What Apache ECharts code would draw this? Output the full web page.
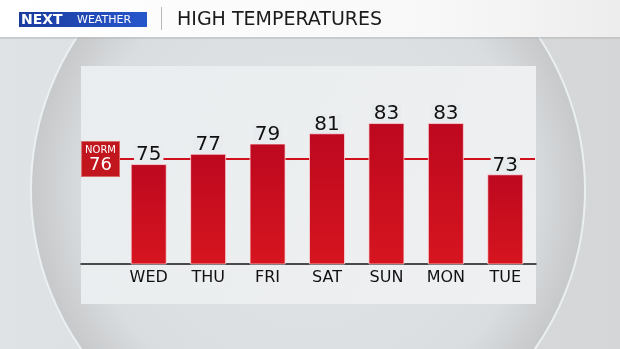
<!DOCTYPE html>
<html>
<head>
<meta charset="utf-8">
<script src="https://cdn.jsdelivr.net/npm/echarts@6/dist/echarts.min.js"></script>
<style>
html,body{margin:0;padding:0;width:620px;height:349px;overflow:hidden;background:#dadddf;}
#c{width:620px;height:349px;}
</style>
</head>
<body>
<div id="c"></div>
<script>
const days = ['WED', 'THU', 'FRI', 'SAT', 'SUN', 'MON', 'TUE'];
const highs = [75, 77, 79, 81, 83, 83, 73];
const normalHigh = 76;
const titleText = 'HIGH TEMPERATURES';
const brandNext = 'NEXT';
const brandWeather = 'WEATHER';

const FONT = '"DejaVu Sans", sans-serif';
const PANEL = '#e9ecee';

const chart = echarts.init(document.getElementById('c'), null, {renderer: 'canvas'});

const option = {
  animation: false,
  backgroundColor: 'transparent',
  title: {
    text: titleText,
    left: 177,
    top: 11,
    padding: 0,
    textStyle: {fontFamily: FONT, fontSize: 19, fontWeight: 'normal', color: '#1b1b1b'}
  },
  graphic: [
    // backdrop
    {type: 'rect', z: -10, silent: true, shape: {x: 0, y: 0, width: 620, height: 349},
      style: {fill: new echarts.graphic.LinearGradient(0, 0, 1, 0, [
        {offset: 0, color: '#dfe3e5'}, {offset: 1, color: '#d4d6d7'}])}},
    {type: 'circle', z: -9, silent: true, shape: {cx: 308, cy: 190, r: 277},
      style: {fill: new echarts.graphic.RadialGradient(0.5, 0.5, 0.5, [
        {offset: 0, color: '#e4e7e9'}, {offset: 0.8, color: '#dadddf'}, {offset: 1, color: '#c6c8ca'}]),
        stroke: 'rgba(236,242,245,0.9)', lineWidth: 2}},
    // header band
    {type: 'rect', z: -8, silent: true, shape: {x: 0, y: 0, width: 620, height: 37},
      style: {fill: new echarts.graphic.LinearGradient(0, 0, 1, 0, [
        {offset: 0, color: '#ffffff'}, {offset: 0.7, color: '#f8f8f8'}, {offset: 1, color: '#ededed'}])}},
    {type: 'rect', z: -8, silent: true, shape: {x: 0, y: 37, width: 620, height: 2},
      style: {fill: 'rgba(180,182,184,0.5)'}},
    // logo
    {type: 'rect', z: 5, silent: true, shape: {x: 19, y: 12, width: 128, height: 15},
      style: {fill: new echarts.graphic.LinearGradient(0, 0, 1, 0, [
        {offset: 0, color: '#1b3b9e'}, {offset: 1, color: '#2656cc'}])}},
    {type: 'text', z: 6, silent: true, style: {x: 21, y: 20, text: brandNext, fill: '#ffffff',
      font: 'bold 14px ' + FONT, textVerticalAlign: 'middle'}},
    {type: 'text', z: 6, silent: true, style: {x: 77, y: 20, text: brandWeather, fill: '#ffffff',
      font: '11px ' + FONT, textVerticalAlign: 'middle'}},
    {type: 'rect', z: 5, silent: true, shape: {x: 161, y: 7, width: 1, height: 23}, style: {fill: '#b8b8b8'}},
    // chart panel
    {type: 'rect', z: -5, silent: true, shape: {x: 81, y: 66, width: 455, height: 238},
      style: {fill: new echarts.graphic.LinearGradient(0, 0, 1, 1, [
        {offset: 0, color: '#eaedef'}, {offset: 1, color: '#eef0f1'}])}}
  ],
  grid: [
    {left: 119, top: 59, width: 416, height: 205, containLabel: false},
    {left: 81, top: 59, width: 455, height: 205, containLabel: false}
  ],
  xAxis: [
    {type: 'category', gridIndex: 0, data: days,
      axisLine: {show: false}, axisTick: {show: false},
      axisLabel: {fontFamily: FONT, fontSize: 16, color: '#111', margin: 6}},
    {type: 'value', gridIndex: 1, min: 0, max: 1,
      axisLine: {show: true, onZero: false, lineStyle: {color: '#151515', width: 1.5}},
      axisTick: {show: false}, axisLabel: {show: false}, splitLine: {show: false}}
  ],
  yAxis: [
    {type: 'value', gridIndex: 0, min: 55.5, max: 95.5, show: false, splitLine: {show: false}},
    {type: 'value', gridIndex: 1, min: 55.5, max: 95.5, show: false, splitLine: {show: false}}
  ],
  series: [{
    type: 'bar',
    xAxisIndex: 0, yAxisIndex: 0,
    z: 3,
    data: highs,
    barWidth: 36,
    itemStyle: {
      color: new echarts.graphic.LinearGradient(0, 0, 0, 1, [
        {offset: 0, color: '#bd081f'}, {offset: 1, color: '#d6151f'}]),
      borderColor: 'rgba(255,225,228,0.7)', borderWidth: 1
    },
    label: {
      show: true, position: 'top', distance: 0,
      fontFamily: FONT, fontSize: 20, color: '#111',
      backgroundColor: PANEL, padding: [0, 2, -1, 2]
    },
    markLine: {
      z: 1,
      silent: true,
      symbol: 'none',
      lineStyle: {color: '#d0101c', width: 2, type: 'solid'},
      data: [{yAxis: normalHigh}],
      label: {
        show: true, position: 'start', distance: 0,
        formatter: () => '{a|NORM}\n{b|' + normalHigh + '}',
        backgroundColor: '#c1161e', borderColor: '#d96a6a', borderWidth: 1,
        padding: [2, 3, 1, 3],
        rich: {
          a: {fontFamily: FONT, fontSize: 10, color: '#fff', lineHeight: 12, align: 'center'},
          b: {fontFamily: FONT, fontSize: 18, color: '#fff', lineHeight: 19, align: 'center'}
        }
      }
    }
  }]
};
chart.setOption(option);
</script>
</body>
</html>
